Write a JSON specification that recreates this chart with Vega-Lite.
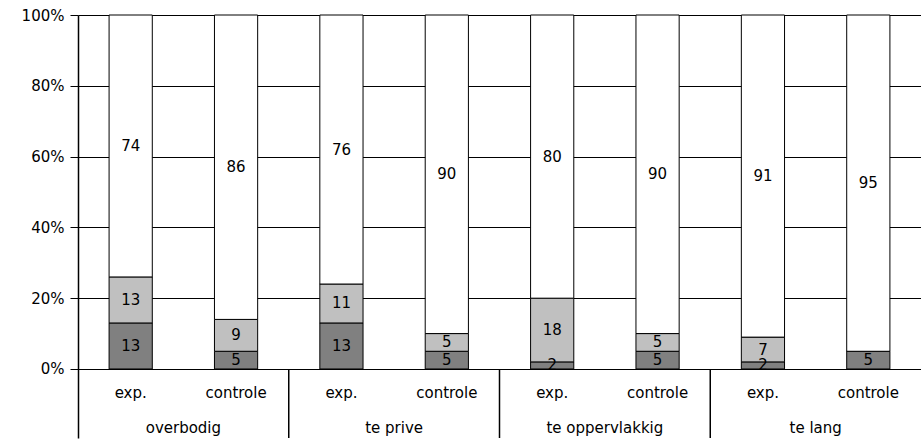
{
  "$schema": "https://vega.github.io/schema/vega-lite/v6.json",
  "width": 843,
  "height": 423,
  "autosize": {"type": "none"},
  "padding": {"left": 78, "top": 15, "right": 0, "bottom": 1},
  "background": "white",
  "config": {"view": {"stroke": null}, "font": "DejaVu Sans", "text": {"font": "DejaVu Sans", "fontSize": 15, "color": "black"}},
  "data": {"values": [
    {"group": "overbodig", "sub": "exp.", "seg": "a", "order": 1, "value": 13},
    {"group": "overbodig", "sub": "exp.", "seg": "b", "order": 2, "value": 13},
    {"group": "overbodig", "sub": "exp.", "seg": "c", "order": 3, "value": 74},
    {"group": "overbodig", "sub": "controle", "seg": "a", "order": 1, "value": 5},
    {"group": "overbodig", "sub": "controle", "seg": "b", "order": 2, "value": 9},
    {"group": "overbodig", "sub": "controle", "seg": "c", "order": 3, "value": 86},
    {"group": "te prive", "sub": "exp.", "seg": "a", "order": 1, "value": 13},
    {"group": "te prive", "sub": "exp.", "seg": "b", "order": 2, "value": 11},
    {"group": "te prive", "sub": "exp.", "seg": "c", "order": 3, "value": 76},
    {"group": "te prive", "sub": "controle", "seg": "a", "order": 1, "value": 5},
    {"group": "te prive", "sub": "controle", "seg": "b", "order": 2, "value": 5},
    {"group": "te prive", "sub": "controle", "seg": "c", "order": 3, "value": 90},
    {"group": "te oppervlakkig", "sub": "exp.", "seg": "a", "order": 1, "value": 2},
    {"group": "te oppervlakkig", "sub": "exp.", "seg": "b", "order": 2, "value": 18},
    {"group": "te oppervlakkig", "sub": "exp.", "seg": "c", "order": 3, "value": 80},
    {"group": "te oppervlakkig", "sub": "controle", "seg": "a", "order": 1, "value": 5},
    {"group": "te oppervlakkig", "sub": "controle", "seg": "b", "order": 2, "value": 5},
    {"group": "te oppervlakkig", "sub": "controle", "seg": "c", "order": 3, "value": 90},
    {"group": "te lang", "sub": "exp.", "seg": "a", "order": 1, "value": 2},
    {"group": "te lang", "sub": "exp.", "seg": "b", "order": 2, "value": 7},
    {"group": "te lang", "sub": "exp.", "seg": "c", "order": 3, "value": 91},
    {"group": "te lang", "sub": "controle", "seg": "a", "order": 1, "value": 5},
    {"group": "te lang", "sub": "controle", "seg": "b", "order": 2, "value": 0},
    {"group": "te lang", "sub": "controle", "seg": "c", "order": 3, "value": 95}
  ]},
  "transform": [
    {"stack": "value", "groupby": ["group", "sub"], "sort": [{"field": "order"}], "as": ["v0", "v1"]},
    {"calculate": "(datum.v0 + datum.v1) / 2", "as": "mid"}
  ],
  "encoding": {
    "x": {"field": "group", "type": "nominal", "sort": ["overbodig", "te prive", "te oppervlakkig", "te lang"],
          "scale": {"paddingInner": 0, "paddingOuter": 0}, "axis": null}
  },
  "layer": [
    {
      "mark": {"type": "bar", "stroke": "black", "strokeWidth": 1},
      "encoding": {
        "xOffset": {"field": "sub", "type": "nominal", "sort": ["exp.", "controle"], "scale": {"paddingInner": 0.59, "paddingOuter": 0.295}},
        "y": {"field": "v0", "type": "quantitative",
              "scale": {"domain": [-19.5, 100], "nice": false, "zero": false},
              "axis": {"values": [0, 20, 40, 60, 80, 100], "labelExpr": "datum.value + '%'", "title": null,
                       "labelFont": "DejaVu Sans", "labelFontSize": 15, "labelColor": "black", "labelPadding": 6,
                       "tickColor": "black", "tickSize": 8, "tickWidth": 1,
                       "domainColor": "black", "domainWidth": 1.5,
                       "grid": true, "gridColor": "black", "gridOpacity": 1, "gridWidth": 1}},
        "y2": {"field": "v1"},
        "color": {"field": "seg", "type": "nominal", "scale": {"domain": ["a", "b", "c"], "range": ["#808080", "#c0c0c0", "#ffffff"]}, "legend": null}
      }
    },
    {
      "transform": [{"filter": "datum.value > 0"}],
      "mark": {"type": "text", "baseline": "middle", "align": "center"},
      "encoding": {
        "xOffset": {"field": "sub", "type": "nominal", "sort": ["exp.", "controle"]},
        "y": {"field": "mid", "type": "quantitative"},
        "text": {"field": "value", "type": "quantitative"}
      }
    },
    {
      "transform": [{"filter": "datum.seg == 'a'"}],
      "mark": {"type": "text", "baseline": "alphabetic", "align": "center"},
      "encoding": {
        "xOffset": {"field": "sub", "type": "nominal", "sort": ["exp.", "controle"]},
        "y": {"datum": -8.3},
        "text": {"field": "sub", "type": "nominal"}
      }
    },
    {
      "transform": [{"filter": "datum.seg == 'a' && datum.sub == 'exp.'"}],
      "mark": {"type": "text", "baseline": "alphabetic", "align": "center"},
      "encoding": {
        "y": {"datum": -18.0},
        "text": {"field": "group", "type": "nominal"}
      }
    },
    {
      "transform": [{"filter": "datum.seg == 'a' && datum.sub == 'exp.' && datum.group != 'overbodig'"}],
      "mark": {"type": "rule", "color": "black", "strokeWidth": 1.5},
      "encoding": {
        "x": {"field": "group", "type": "nominal", "bandPosition": 0, "sort": ["overbodig", "te prive", "te oppervlakkig", "te lang"]},
        "y": {"datum": 0},
        "y2": {"datum": -19.5}
      }
    },
    {
      "mark": {"type": "rule", "color": "black", "strokeWidth": 1.5},
      "encoding": {"y": {"datum": 0}}
    }
  ]
}
